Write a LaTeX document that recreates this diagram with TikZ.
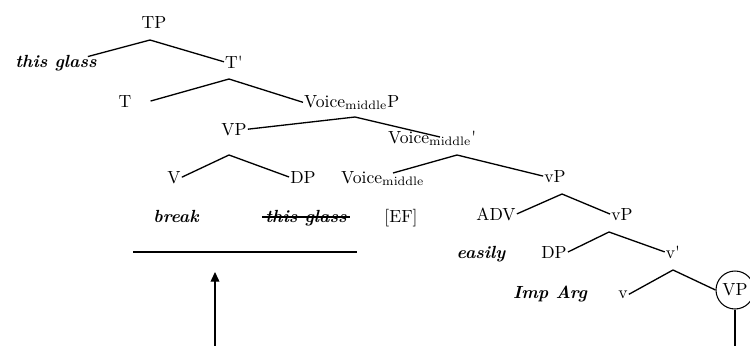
\documentclass[tikz,border=0pt]{standalone}
\usepackage{amsmath}
\usetikzlibrary{calc,arrows.meta}

\begin{document}
\begin{tikzpicture}[x=0.02cm,y=-0.02cm,
    etq/.style={anchor=base,inner sep=0.5pt},
    lex/.style={anchor=base,inner sep=0.5pt,font=\bfseries\itshape},
    rama/.style={line width=0.75pt}]
    \useasboundingbox (0,0) rectangle (750,345);
    \clip (0,0) rectangle (750,345);

    % Etiquetas del arbol
    \node[etq] (tp) at (154,28) {TP};
    \node[lex] (tg) at (56,67) {this glass};
    \node[etq] (tb) at (234,68) {T\textquotesingle};
    \node[etq] (t) at (125,107) {T};
    \node[etq,anchor=base west] (vmp) at (303,107) {Voice$_{\mathrm{middle}}$P};
    \node[etq] (vp) at (234,135) {VP};
    \node[etq,anchor=base west] (vmb) at (387,143) {Voice$_{\mathrm{middle}}$\textquotesingle};
    \node[etq] (v) at (174,183) {V};
    \node[etq] (dp) at (303,183) {DP};
    \node[etq,anchor=base west] (vm) at (340,183) {Voice$_{\mathrm{middle}}$};
    \node[etq] (vsp) at (555,182) {vP};
    \node[lex] (brk) at (176,222) {break};
    \node[lex] (tgb) at (306,222) {this glass};
    \node[etq] (ef) at (401,222) {[EF]};
    \node[etq] (adv) at (496,220) {ADV};
    \node[etq] (vspb) at (622,220) {vP};
    \node[lex] (easy) at (481,258) {easily};
    \node[etq] (dpb) at (554,258) {DP};
    \node[etq] (vb) at (673,258) {v\textquotesingle};
    \node[lex] (imp) at (550,298) {Imp Arg};
    \node[etq] (vv) at (623,298) {v};
    \node[draw,circle,line width=0.6pt,minimum size=0.76cm,inner sep=0pt] (vpc) at (735,290) {VP};

    % Vertices de las ramas
    \coordinate (tpa) at (150,40);
    \coordinate (tba) at (229,79);
    \coordinate (vmpa) at (355,117);
    \coordinate (vpa) at (229,155);
    \coordinate (vmba) at (457,155);
    \coordinate (vspa) at (562,194);
    \coordinate (vspba) at (609,232);
    \coordinate (vba) at (673,270);

    % Ramas
    \draw[rama] ($(tg.north east)+(-10,3)$) -- (tpa) -- (tb.west);
    \draw[rama] ($(t.east)+(18,0)$) -- (tba) -- (vmp.west);
    \draw[rama] (vp.east) -- (vmpa) -- ($(vmb.base west)+(53,-6)$);
    \draw[rama] (v.east) -- (vpa) -- (dp.west);
    \draw[rama] ($(vm.base west)+(53,-10)$) -- (vmba) -- (vsp.west);
    \draw[rama] (adv.east) -- (vspa) -- (vspb.west);
    \draw[rama] (dpb.east) -- (vspba) -- (vb.west);
    \draw[rama] (vv.east) -- (vba) -- (vpc.west);

    % copia tachada
    \draw[line width=0.6pt] ($(tgb.base west)+(-2,-5)$) -- ($(tgb.base east)+(2,-5)$);

    % linea y flecha de abajo
    \coordinate (hl) at (133,252);
    \coordinate (hr) at (357,252);
    \draw[line width=0.7pt] (hl) -- (hr);
    \coordinate (fb) at (215,350);
    \coordinate (ft) at (215,272);
    \draw[line width=0.6pt,-{Triangle[length=5.5pt,width=5pt]}] (fb) -- (ft);
    \coordinate (fin) at (735,350);
    \draw[line width=0.75pt] (vpc.south) -- (fin);
\end{tikzpicture}
\end{document}
